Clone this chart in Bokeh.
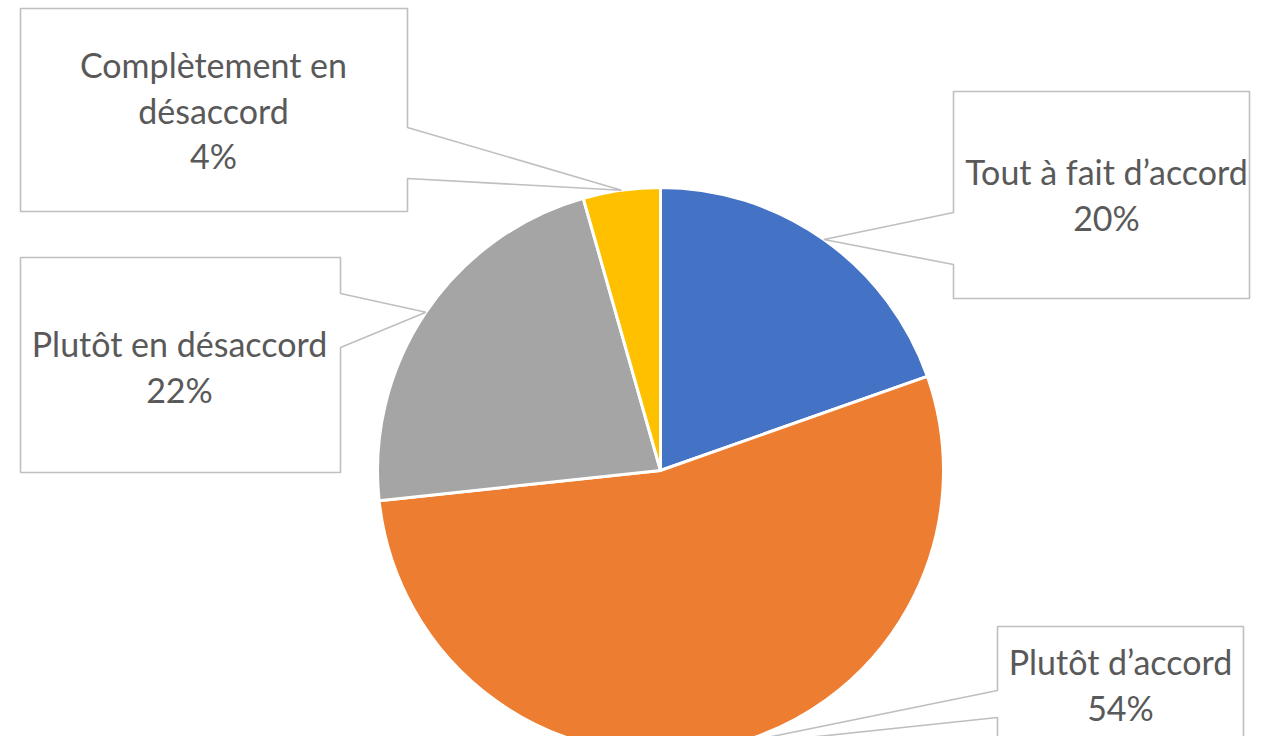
import math
from bokeh.plotting import figure
from bokeh.models import Range1d, ColumnDataSource
from bokeh.core.properties import value
from bokeh.embed import file_html
from bokeh.resources import INLINE

# ---- data ----
categories = ["Tout à fait d’accord", "Plutôt d’accord", "Plutôt en désaccord", "Complètement en désaccord"]
values = [19.6, 53.7, 22.3, 4.4]
colors = ["#4472C4", "#ED7D31", "#A5A5A5", "#FFC000"]
label_lines = [["Tout à fait d’accord"], ["Plutôt d’accord"], ["Plutôt en désaccord"], ["Complètement en", "désaccord"]]
pct_labels = [f"{round(v)}%" for v in values]

# ---- layout (reference pixel coordinates, y downward) ----
FW, FH = 1251, 736
H = 752
CX, CY, R = 660, 470, 283
# box: left, top, right, bottom, pointer side, pointer y0, pointer y1, text center x, first baseline
boxes = [
    (953, 91, 1249, 298, "left", 212, 264, 1106, 171),
    (997, 626, 1243, 770, "left", 690, 717, 1120, 661),
    (20, 257, 340, 472, "right", 293, 347, 179, 343),
    (20, 8, 407, 211, "right", 127, 178, 213, 64),
]
LINE_H = 45.5

def Y(v):
    return H - v

p = figure(width=FW, height=FH, x_range=Range1d(0, FW), y_range=Range1d(Y(FH), Y(0)),
           output_backend="svg", toolbar_location=None, min_border=0)
p.axis.visible = False
p.grid.visible = False
p.outline_line_color = None
p.background_fill_color = "white"
p.border_fill_color = "white"

total = sum(values)
starts, ends, mids = [], [], []
cum = 0.0
for v in values:
    a0 = math.pi / 2 - 2 * math.pi * cum / total
    cum += v
    a1 = math.pi / 2 - 2 * math.pi * cum / total
    starts.append(a0)
    ends.append(a1)
    mids.append((a0 + a1) / 2)

src = ColumnDataSource(dict(x=[CX] * len(values), y=[Y(CY)] * len(values), start=starts, end=ends, color=colors))
p.wedge(x="x", y="y", radius=R, start_angle="start", end_angle="end", direction="clock",
        fill_color="color", line_color="white", line_width=3, source=src)

# callouts
xs, ys = [], []
tx, ty, tt = [], [], []
for i, (l, t, r, b, side, py0, py1, cx, base) in enumerate(boxes):
    tipx = CX + R * math.cos(mids[i])
    tipy = CY - R * math.sin(mids[i])
    if side == "right":
        pts = [(l, t), (r, t), (r, py0), (tipx, tipy), (r, py1), (r, b), (l, b)]
    else:
        pts = [(l, t), (r, t), (r, b), (l, b), (l, py1), (tipx, tipy), (l, py0)]
    xs.append([q[0] for q in pts])
    ys.append([Y(q[1]) for q in pts])
    lines = label_lines[i] + [pct_labels[i]]
    for k, s in enumerate(lines):
        tx.append(cx)
        ty.append(Y(base + k * LINE_H))
        tt.append(s)

p.patches(xs=xs, ys=ys, fill_color="white", line_color="#BFBFBF", line_width=1.6)
p.text(x=tx, y=ty, text=tt, text_font=value("Lato"), text_font_size="34px", text_align="center",
       text_baseline="alphabetic", text_color="#595959")

open("out.html", "w").write(file_html(p, INLINE))
